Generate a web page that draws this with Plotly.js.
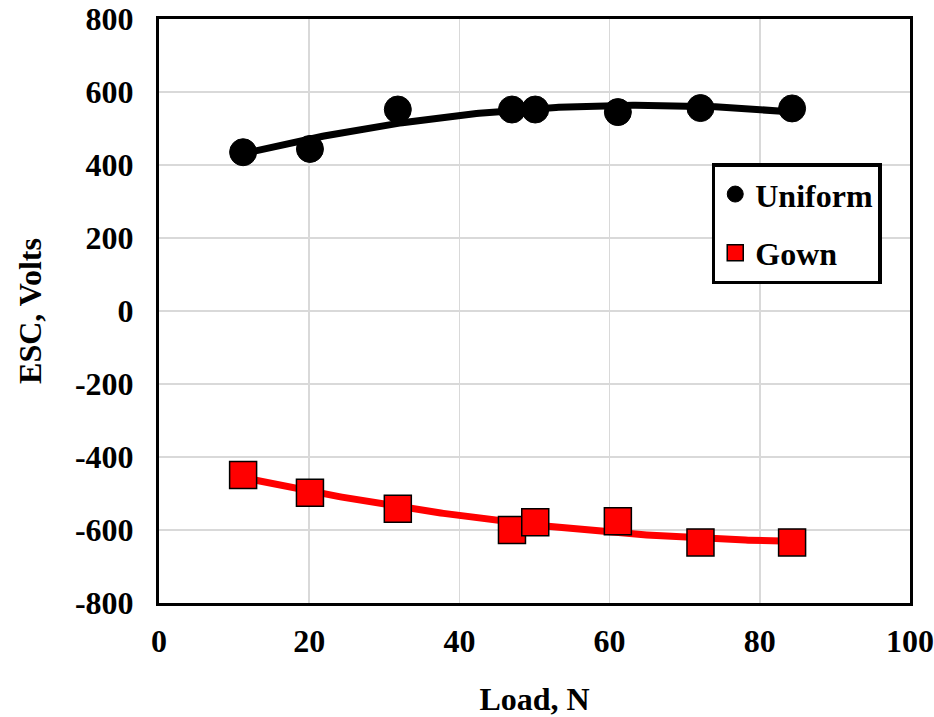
<!DOCTYPE html>
<html>
<head>
<meta charset="utf-8">
<script src="https://cdn.plot.ly/plotly-3.0.1.min.js"></script>
<style>html,body{margin:0;padding:0;background:#fff}#chart{width:934px;height:717px}</style>
</head>
<body>
<div id="chart"></div>
<script>
const loadN = [11.2, 20.1, 31.8, 47.0, 50.1, 61.1, 72.1, 84.3];
const uniformV = [435, 444, 552, 552, 552, 545, 556, 555];
const gownV = [-449, -498, -542, -600, -579, -576, -634, -634];
const seriesNames = ['Uniform', 'Gown'];
const xTicks = [0, 20, 40, 60, 80, 100];
const yTicks = [-800, -600, -400, -200, 0, 200, 400, 600, 800];

// least-squares polynomial (order 2) trendline, as in a spreadsheet
function polyFit2(xs, ys) {
  let S = [0,0,0,0,0], T = [0,0,0];
  for (let i = 0; i < xs.length; i++) {
    let p = 1;
    for (let k = 0; k < 5; k++) { S[k] += p; if (k < 3) T[k] += p * ys[i]; p *= xs[i]; }
  }
  const A = [[S[0],S[1],S[2],T[0]],[S[1],S[2],S[3],T[1]],[S[2],S[3],S[4],T[2]]];
  for (let c = 0; c < 3; c++) {
    for (let r = c + 1; r < 3; r++) {
      const f = A[r][c] / A[c][c];
      for (let k = c; k < 4; k++) A[r][k] -= f * A[c][k];
    }
  }
  const b = [0,0,0];
  for (let r = 2; r >= 0; r--) {
    let s = A[r][3];
    for (let k = r + 1; k < 3; k++) s -= A[r][k] * b[k];
    b[r] = s / A[r][r];
  }
  return b;
}
function trend(xs, ys) {
  const b = polyFit2(xs, ys);
  const x0 = Math.min(...xs), x1 = Math.max(...xs);
  const tx = [], ty = [];
  for (let i = 0; i <= 200; i++) {
    const x = x0 + (x1 - x0) * i / 200;
    tx.push(x); ty.push(b[0] + b[1]*x + b[2]*x*x);
  }
  return {tx, ty};
}
const tu = trend(loadN, uniformV);
const tg = trend(loadN, gownV);
const F = 'Liberation Serif, Times New Roman, serif';
const FS = 32;

const data = [
  {x: tu.tx, y: tu.ty, mode: 'lines', line: {color: '#000', width: 7}, showlegend: false, hoverinfo: 'skip'},
  {x: tg.tx, y: tg.ty, mode: 'lines', line: {color: '#ff0000', width: 7}, showlegend: false, hoverinfo: 'skip'},
  {x: loadN, y: uniformV, mode: 'markers', name: seriesNames[0], legendgroup: 'a',
   marker: {symbol: 'circle', size: 27, color: '#000', line: {color: '#000', width: 1}}},
  {x: loadN, y: gownV, mode: 'markers', name: seriesNames[1], legendgroup: 'b',
   marker: {symbol: 'square', size: 27, color: '#ff0000', line: {color: '#000', width: 1.5}}}
];

const layout = {
  width: 934, height: 717,
  margin: {l: 159, r: 24, t: 19, b: 114},
  paper_bgcolor: '#fff', plot_bgcolor: '#fff',
  font: {family: F, size: FS, color: '#000', weight: 'bold'},
  xaxis: {
    range: [0, 100], tickvals: xTicks, ticktext: xTicks.map(String),
    showgrid: true, gridcolor: '#d9d9d9', gridwidth: 1.5, zeroline: false,
    showline: true, linecolor: '#000', linewidth: 3, mirror: true,
    ticks: 'outside', ticklen: 8, tickcolor: 'rgba(0,0,0,0)',
    tickfont: {family: F, size: FS, weight: 'bold'},
    title: {text: 'Load, N', font: {family: F, size: FS, weight: 'bold'}, standoff: 31}
  },
  yaxis: {
    range: [-800, 800], tickvals: yTicks, ticktext: yTicks.map(String),
    showgrid: true, gridcolor: '#d9d9d9', gridwidth: 1.5, zeroline: false,
    showline: true, linecolor: '#000', linewidth: 3, mirror: true,
    ticks: 'outside', ticklen: 16, tickcolor: 'rgba(0,0,0,0)',
    tickfont: {family: F, size: FS, weight: 'bold'},
    title: {text: 'ESC, Volts', font: {family: F, size: FS, weight: 'bold'}, standoff: 24}
  },
  legend: {
    x: 0.736, y: 0.753, xanchor: 'left', yanchor: 'top',
    bgcolor: '#fff', bordercolor: '#000', borderwidth: 3.5,
    font: {family: F, size: FS, weight: 'bold'},
    tracegroupgap: 14, traceorder: 'grouped', itemwidth: 30
  },
  showlegend: true
};
Plotly.newPlot('chart', data, layout, {displayModeBar: false, staticPlot: true});
</script>
</body>
</html>
